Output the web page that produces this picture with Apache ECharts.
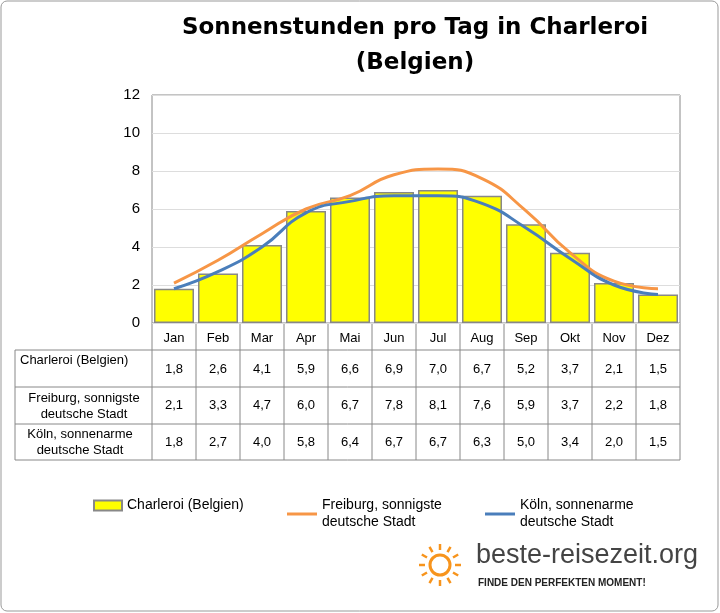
<!DOCTYPE html>
<html><head><meta charset="utf-8">
<script src="https://cdn.jsdelivr.net/npm/echarts@6/dist/echarts.min.js"></script>
<style>html,body{margin:0;padding:0;background:#fff}#main{width:720px;height:613px}</style>
</head><body><div id="main"></div>
<script>
var months = ['Jan','Feb','Mar','Apr','Mai','Jun','Jul','Aug','Sep','Okt','Nov','Dez'];
var charleroi = [1.8,2.6,4.1,5.9,6.6,6.9,7.0,6.7,5.2,3.7,2.1,1.5];
var freiburg = [2.1,3.3,4.7,6.0,6.7,7.8,8.1,7.6,5.9,3.7,2.2,1.8];
var koeln = [1.8,2.7,4.0,5.8,6.4,6.7,6.7,6.3,5.0,3.4,2.0,1.5];
var names = ['Charleroi (Belgien)','Freiburg, sonnigste\ndeutsche Stadt','Köln, sonnenarme\ndeutsche Stadt'];

var myChart = echarts.init(document.getElementById('main'));
var L = 152, R = 680, T = 95, B = 323, cw = (R - L) / 12;
var font = 'Liberation Sans';
function fmt(v){ return v.toFixed(1).replace('.', ','); }

// Zeilen der Tabelle als zusätzliche x-Achsen
function rowAxis(vals, margin){
  return {type:'category', data: vals.map(fmt), position:'bottom', gridIndex:0,
    axisLine:{show:false}, axisTick:{show:false},
    axisLabel:{margin: margin, color:'#000', fontSize:13, fontFamily: font}};
}

var g = [
  {type:'rect', shape:{x:1,y:1,width:717,height:610,r:6}, style:{fill:'none',stroke:'#999',lineWidth:1}},
  {type:'text', x:415, y:17, style:{text:'Sonnenstunden pro Tag in Charleroi', textAlign:'center', font:'bold 23px "DejaVu Sans"', fill:'#000'}},
  {type:'text', x:415, y:52, style:{text:'(Belgien)', textAlign:'center', font:'bold 23px "DejaVu Sans"', fill:'#000'}}
];
var rowsY = [350, 387, 424, 460];
rowsY.forEach(function(y){
  g.push({type:'line', shape:{x1:15,y1:y,x2:R,y2:y}, style:{stroke:'#888',lineWidth:1}});
});
for (var k = 0; k <= 12; k++) {
  g.push({type:'line', shape:{x1:L+k*cw,y1:B,x2:L+k*cw,y2:460}, style:{stroke:'#888',lineWidth:1}});
}
g.push({type:'line', shape:{x1:15,y1:350,x2:15,y2:460}, style:{stroke:'#888',lineWidth:1}});
g.push({type:'text', x:20, y:354, style:{text:names[0], font:'13px "Liberation Sans"', fill:'#000'}});
g.push({type:'text', x:84, y:390, style:{text:names[1], textAlign:'center', font:'13px "Liberation Sans"', fill:'#000', lineHeight:16}});
g.push({type:'text', x:80, y:426, style:{text:names[2], textAlign:'center', font:'13px "Liberation Sans"', fill:'#000', lineHeight:16}});
// Logo
var sx = 440, sy = 565;
g.push({type:'circle', shape:{cx:sx,cy:sy,r:10}, style:{fill:'none',stroke:'#f7941d',lineWidth:3}});
for (var a = 0; a < 12; a++) {
  var ang = a * Math.PI / 6;
  g.push({type:'line', shape:{x1:sx+15*Math.cos(ang),y1:sy+15*Math.sin(ang),x2:sx+21*Math.cos(ang),y2:sy+21*Math.sin(ang)}, style:{stroke:'#f7941d',lineWidth:2.5}});
}
g.push({type:'text', x:476, y:542, style:{text:'beste-reisezeit.org', font:'27px "Liberation Sans"', fill:'#444'}});
g.push({type:'text', x:478, y:578, style:{text:'FINDE DEN PERFEKTEN MOMENT!', font:'bold 10px "Liberation Sans"', fill:'#222'}});

var legendText = {fontSize:14, fontFamily: font, color:'#000', lineHeight:17};
var option = {
  animation:false,
  graphic: g,
  legend: [
    {data:[{name:names[0], icon:'rect'}], left:88, top:492, itemWidth:28, itemHeight:10, textStyle: legendText},
    {data:[{name:names[1], icon:'rect'}], left:282, top:492, itemWidth:30, itemHeight:3, textStyle: legendText},
    {data:[{name:names[2], icon:'rect'}], left:480, top:492, itemWidth:30, itemHeight:3, textStyle: legendText}
  ],
  grid:{left:L, right:720-R, top:T, bottom:613-B, show:true, borderColor:'#888', borderWidth:1},
  xAxis:[
    {type:'category', data: months, axisLine:{show:false}, axisTick:{show:false},
     axisLabel:{margin:9, color:'#000', fontSize:13, fontFamily: font}},
    rowAxis(charleroi, 40),
    rowAxis(freiburg, 76),
    rowAxis(koeln, 113)
  ],
  yAxis:{type:'value', min:0, max:12, interval:2,
    axisLine:{show:false}, axisTick:{show:false},
    axisLabel:{color:'#000', fontSize:15, fontFamily: font, margin:12},
    splitLine:{lineStyle:{color:'#ddd'}}},
  series:[
    {name:names[0], type:'bar', data:charleroi, barWidth:40,
     itemStyle:{color:'#ffff00', borderColor:'#888', borderWidth:1.5}},
    {name:names[1], type:'line', data:freiburg, smooth:0.5, symbol:'none',
     lineStyle:{color:'#f79646', width:3}, itemStyle:{color:'#f79646'}},
    {name:names[2], type:'line', data:koeln, smooth:0.5, symbol:'none',
     lineStyle:{color:'#4a7ebb', width:3}, itemStyle:{color:'#4a7ebb'}}
  ]
};
myChart.setOption(option);
window.onresize = function(){ myChart.resize(); };
</script></body></html>
